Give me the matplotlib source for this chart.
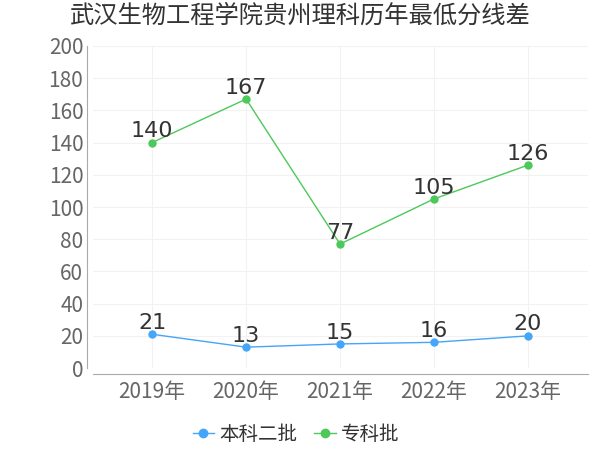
import matplotlib
matplotlib.use('Agg')
import matplotlib.pyplot as plt

plt.rcParams['font.family'] = ['Noto Sans CJK SC', 'DejaVu Sans']
NUM_FONT = ['DejaVu Sans', 'Noto Sans CJK SC']

TITLE = '武汉生物工程学院贵州理科历年最低分线差'
years = ['2019年', '2020年', '2021年', '2022年', '2023年']
benke2 = [21, 13, 15, 16, 20]
zhuanke = [140, 167, 77, 105, 126]
series = [('本科二批', benke2, '#45a5f8'), ('专科批', zhuanke, '#4dc85a')]

fig = plt.figure(figsize=(6, 4.5), dpi=100)
ax = fig.add_axes([0.155, 0.182, 0.825, 0.716])

xs = range(len(years))
for name, vals, color in series:
    ax.plot(xs, vals, color=color, linewidth=1, marker='o', markersize=5, label=name)
    for x, v in zip(xs, vals):
        ax.annotate(str(v), (x, v), xytext=(0, 1), textcoords='offset points',
                    ha='center', va='bottom', fontsize=16, color='#333333',
                    family=NUM_FONT)

ax.set_xlim(-0.63, 4.64)
ax.set_ylim(0, 200)
ax.set_yticks(range(0, 201, 20))
ax.set_xticks(list(xs))
ax.set_xticklabels(years)
ax.tick_params(axis='both', labelsize=15, colors='#666666', length=0, pad=3)
ax.tick_params(axis='x', pad=5)
for lab in ax.get_xticklabels() + ax.get_yticklabels():
    lab.set_family(NUM_FONT)
ax.grid(True, color='#f2f2f2', linewidth=0.8)
ax.set_axisbelow(True)
for s in ['top', 'right']:
    ax.spines[s].set_visible(False)
for s in ['left', 'bottom']:
    ax.spines[s].set_color('#aaaaaa')
    ax.spines[s].set_position(('outward', 4))

fig.suptitle(TITLE, fontsize=17.5, color='#333333', y=0.993)
ax.legend(loc='upper center', bbox_to_anchor=(0.41, -0.12), ncol=2, frameon=False,
          fontsize=14, handlelength=1.1, handletextpad=0.25, columnspacing=0.9,
          labelcolor='#333333', markerscale=1.2)

fig.savefig('out.png', dpi=100)
